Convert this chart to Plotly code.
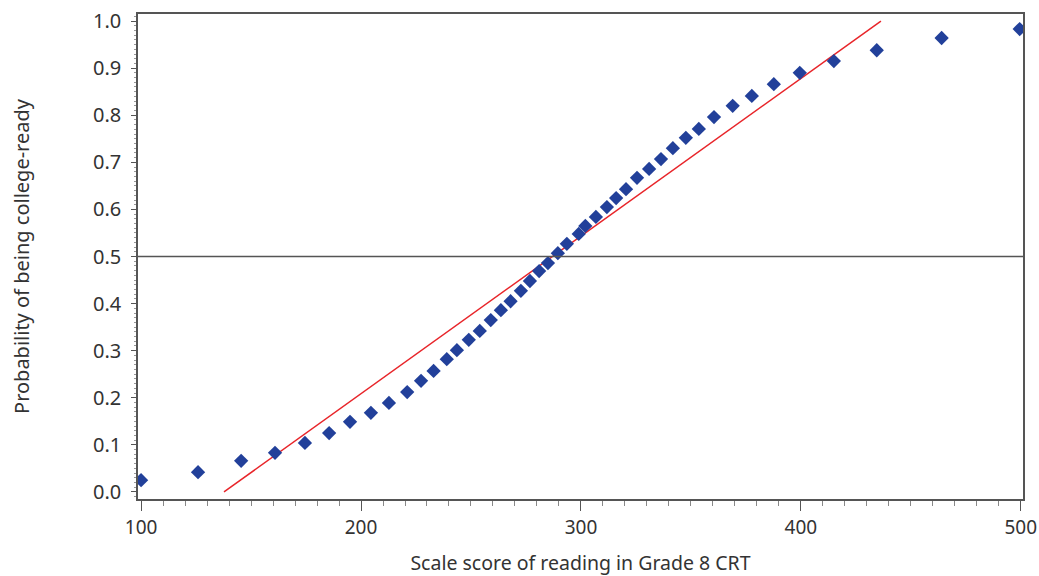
import plotly.graph_objects as go

scale_score = [100, 125.9, 145.5, 160.9, 174.5, 185.5, 195, 204.5, 212.7, 221, 227.3, 233,
               239, 243.6, 249, 254, 259, 263.6, 268, 272.7, 276.8, 281, 285, 289.5, 293.6,
               299, 302, 306.8, 311.8, 316, 320.5, 325.5, 331, 336.4, 341.8, 347.7, 353.6,
               360.5, 369, 377.7, 387.7, 399.5, 415, 434.5, 464, 499.5]
probability = [0.025, 0.042, 0.066, 0.083, 0.104, 0.125, 0.149, 0.168, 0.189, 0.212, 0.236, 0.257,
               0.282, 0.301, 0.323, 0.342, 0.365, 0.386, 0.405, 0.427, 0.448, 0.469, 0.486, 0.507,
               0.527, 0.548, 0.565, 0.584, 0.605, 0.624, 0.643, 0.667, 0.686, 0.707, 0.730, 0.752,
               0.771, 0.796, 0.820, 0.841, 0.866, 0.890, 0.915, 0.938, 0.964, 0.983]
linear_x = [137.7, 436.4]
linear_y = [0.0, 1.0]
cutoff = 0.5

x_ticks = [100, 200, 300, 400, 500]
y_ticks = [0.0, 0.1, 0.2, 0.3, 0.4, 0.5, 0.6, 0.7, 0.8, 0.9, 1.0]

axis_col = "#555555"
font_family = "Noto Sans"

fig = go.Figure()
fig.add_trace(go.Scatter(x=linear_x, y=linear_y, mode="lines",
                         line=dict(color="#e8252a", width=1.5), showlegend=False))
fig.add_trace(go.Scatter(x=scale_score, y=probability, mode="markers",
                         marker=dict(symbol="diamond", size=11, color="#22409a",
                                     line=dict(width=0)), showlegend=False))
fig.add_shape(type="line", xref="paper", yref="y", x0=0, x1=1, y0=cutoff, y1=cutoff,
              line=dict(color=axis_col, width=1.3))

fig.update_layout(
    width=1039, height=576,
    margin=dict(l=138, r=16, t=14, b=77),
    paper_bgcolor="white", plot_bgcolor="white",
    font=dict(family=font_family, color="#333333", size=19),
)
fig.update_xaxes(
    range=[98.6, 501], tickvals=x_ticks, ticktext=[str(v) for v in x_ticks],
    automargin=False,
    showgrid=False, zeroline=False,
    showline=True, linecolor=axis_col, linewidth=1.5, mirror=True,
    ticks="outside", ticklen=10, tickwidth=1.3, tickcolor=axis_col,
    minor=dict(dtick=10, tick0=100, ticks="outside", ticklen=5, tickwidth=1, tickcolor="#888888", showgrid=False),
    tickfont=dict(size=19),
    title=dict(text="Scale score of reading in Grade 8 CRT", font=dict(size=19.5), standoff=21),
)
fig.update_yaxes(
    range=[-0.015, 1.015], tickvals=y_ticks, ticktext=[f"{v:.1f}" for v in y_ticks],
    automargin=False,
    showgrid=False, zeroline=False,
    showline=True, linecolor=axis_col, linewidth=1.5, mirror=True,
    ticks="outside", ticklen=5, tickwidth=1.3, tickcolor=axis_col,
    minor=dict(dtick=0.01, tick0=0, ticks="outside", ticklen=2, tickwidth=1, tickcolor="#999999", showgrid=False),
    tickfont=dict(size=20), ticklabelstandoff=6,
    title=dict(text="Probability of being college-ready", font=dict(size=20), standoff=58),
)
fig.write_html("out.html")
